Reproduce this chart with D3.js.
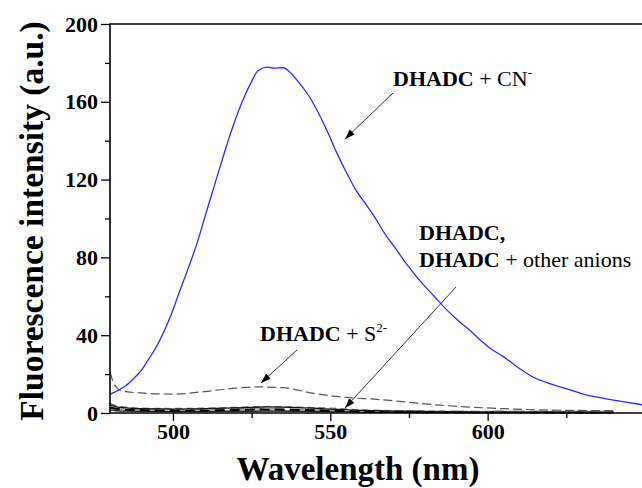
<!DOCTYPE html>
<html>
<head>
<meta charset="utf-8">
<script src="https://cdn.jsdelivr.net/npm/d3@7"></script>
<style>
  body { margin: 0; background: #fff; }
  svg { display: block; }
</style>
</head>
<body>
<svg id="chart" width="642" height="488"></svg>
<script>
// spectra (wavelength nm, intensity a.u.)
const cnWave = [480, 483, 485, 488, 490, 492, 494, 496, 498, 500, 502, 505, 508, 510, 513, 516, 519, 522, 525, 527, 530, 532, 535, 537, 540, 543, 546, 549, 552, 555, 558, 561, 564, 567, 571, 575, 579, 583, 587, 591, 594, 598, 601, 605, 610, 615, 620, 626, 631, 637, 643, 650];
const cnVals = [9.6, 12, 14, 18.5, 22, 27, 32, 38, 45, 53, 62, 75, 89, 100, 116, 132, 147, 160, 170.5, 176, 177.8, 177.3, 177.5, 175.5, 170, 163.5, 155, 145, 134, 124, 115, 108, 101, 93, 84, 75, 67, 60, 53, 47, 43, 37, 33, 29, 23, 18, 15, 12, 9.5, 7.5, 5.8, 4];

const sWave = [480, 481, 482.5, 485, 490, 500, 510, 520, 527, 535, 545, 555, 565, 575, 585, 595, 605, 620, 640];
const sVals = [21, 16, 12.5, 11, 10.3, 9.7, 11, 12.8, 13.4, 13, 10, 8, 7, 5.5, 4, 3, 2.2, 1.5, 1.2];

// DHADC and DHADC + other anions (overlapping low traces)
const lowWave = [480, 482, 485, 490, 500, 510, 520, 530, 540, 550, 560, 580, 600, 620, 640];
const lowA = [4.2, 3.2, 2.6, 2.2, 2.0, 2.2, 2.6, 3.1, 2.8, 2.0, 1.3, 0.8, 0.5, 0.4, 0.3];
const lowB = [5.0, 3.8, 3.0, 2.5, 2.3, 2.5, 2.9, 3.3, 3.0, 2.5, 1.6, 1.0, 0.8, 0.7, 0.6];
const lowC = [3.0, 2.2, 1.7, 1.5, 1.2, 1.3, 1.6, 1.8, 1.6, 1.2, 0.8, 0.5, 0.4, 0.3, 0.3];
const lowD = [2.5, 2.0, 1.8, 1.6, 1.5, 1.7, 2.0, 2.2, 1.8, 1.4, 1.0, 0.8, 0.7, 0.8, 0.8];
const lowE = [1.5, 1.2, 1.0, 0.9, 0.8, 0.8, 0.9, 1.0, 0.9, 0.7, 0.5, 0.3, 0.2, 0.2, 0.2];

const yMajor = [0, 40, 80, 120, 160, 200];
const yMinor = [20, 60, 100, 140, 180];
const xMajor = [500, 550, 600];
const xMinor = [525, 575, 625];

const SERIF = '"Liberation Serif", "Times New Roman", Times, serif';

const svg = d3.select("#chart");
const mLeft = 110, mTop = 24, mBottom = 413, mRight = 645;

const x = d3.scaleLinear().domain([480, 650]).range([mLeft, mRight]);
const y = d3.scaleLinear().domain([0, 200]).range([mBottom, mTop]);

const line = d3.line()
  .x(d => x(d[0]))
  .y(d => y(d[1]))
  .curve(d3.curveMonotoneX);

const plot = svg.append("g");

function trace(wave, vals, color, width, dash) {
  plot.append("path")
    .datum(d3.zip(wave, vals))
    .attr("d", line)
    .attr("fill", "none")
    .attr("stroke", color)
    .attr("stroke-width", width)
    .attr("stroke-dasharray", dash || null);
}

trace(lowWave, lowE, "#222", 1.5);
trace(lowWave, lowD, "#999", 2, "14,6");
trace(lowWave, lowC, "#000", 2, "10,5");
trace(lowWave, lowB, "#777", 1.3, "7,4");
trace(lowWave, lowA, "#111", 1.3);
trace(sWave, sVals, "#555", 1.2, "9,4");
trace(cnWave, cnVals, "#2a2aff", 1.3);

// axes
svg.append("g").attr("transform", `translate(${mLeft},0)`)
  .call(d3.axisLeft(y).tickValues(yMajor).tickSize(9).tickPadding(3).tickFormat(d3.format("d")));
svg.append("g").attr("transform", `translate(${mLeft},0)`)
  .call(d3.axisLeft(y).tickValues(yMinor).tickSize(5).tickFormat(""));

svg.append("g").attr("transform", `translate(0,${mBottom})`)
  .call(d3.axisBottom(x).tickValues(xMajor).tickSize(8).tickPadding(2).tickFormat(d3.format("d")));
svg.append("g").attr("transform", `translate(0,${mBottom})`)
  .call(d3.axisBottom(x).tickValues(xMinor).tickSize(5).tickFormat(""));

svg.selectAll(".domain").remove();
svg.selectAll(".tick line").attr("stroke", "#000").attr("stroke-width", 1.3);
svg.selectAll(".tick text")
  .style("font-family", SERIF)
  .style("font-weight", "bold")
  .style("font-size", "22px")
  .attr("fill", "#000");

// frame
svg.append("path")
  .attr("d", `M${mRight},${mTop}H${mLeft}V${mBottom}H${mRight}`)
  .attr("fill", "none")
  .attr("stroke", "#000")
  .attr("stroke-width", 1.6);

// axis titles
svg.append("text")
  .attr("x", 358).attr("y", 480)
  .attr("text-anchor", "middle")
  .style("font-family", SERIF)
  .style("font-weight", "bold")
  .style("font-size", "33px")
  .text("Wavelength (nm)");

svg.append("text")
  .attr("transform", "translate(43,221) rotate(-90)")
  .attr("text-anchor", "middle")
  .style("font-family", SERIF)
  .style("font-weight", "bold")
  .style("font-size", "33.5px")
  .text("Fluorescence intensity (a.u.)");

// annotations
function label(px, py, parts) {
  const t = svg.append("text").attr("x", px).attr("y", py)
    .style("font-family", SERIF).style("font-size", "22px").attr("fill", "#000");
  parts.forEach(p => {
    const s = t.append("tspan").text(p.t);
    if (p.b) s.style("font-weight", "bold");
    if (p.sup) s.style("font-size", "13px").attr("dy", -9);
  });
}
label(393, 86, [{t: "DHADC", b: true}, {t: " + CN"}, {t: "-", sup: true}]);
label(419, 240, [{t: "DHADC,", b: true}]);
label(419, 267, [{t: "DHADC", b: true}, {t: " + other anions"}]);
label(260, 341, [{t: "DHADC", b: true}, {t: " + S"}, {t: "2-", sup: true}]);

svg.append("defs").append("marker")
  .attr("id", "head")
  .attr("viewBox", "0 0 10 10")
  .attr("refX", 10).attr("refY", 5)
  .attr("markerWidth", 10).attr("markerHeight", 10)
  .attr("markerUnits", "userSpaceOnUse")
  .attr("orient", "auto")
  .append("path").attr("d", "M0,1.5L10,5L0,8.5z").attr("fill", "#000");

const arrows = [
  [393, 93, 345, 139],
  [297, 350, 261, 383],
  [456, 287, 345, 408]
];
arrows.forEach(a => {
  svg.append("line")
    .attr("x1", a[0]).attr("y1", a[1]).attr("x2", a[2]).attr("y2", a[3])
    .attr("stroke", "#333").attr("stroke-width", 1)
    .attr("marker-end", "url(#head)");
});
</script>
</body>
</html>
